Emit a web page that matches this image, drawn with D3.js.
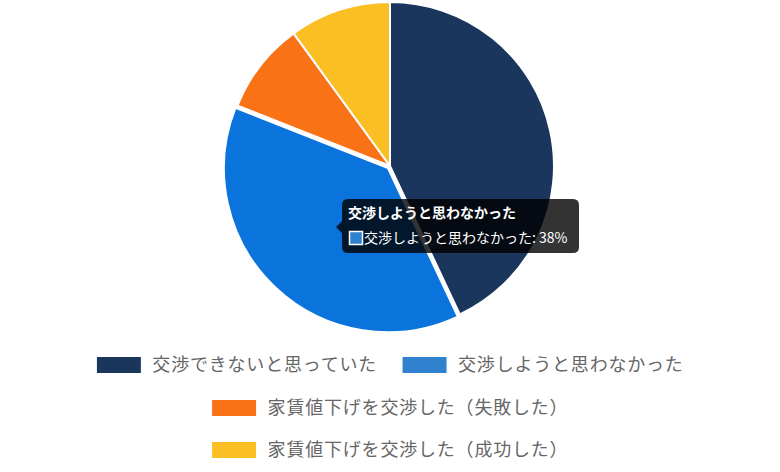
<!DOCTYPE html>
<html>
<head>
<meta charset="utf-8">
<script src="https://cdn.jsdelivr.net/npm/d3@7"></script>
<style>
  html, body { margin: 0; padding: 0; background: #fff; }
  svg { display: block; font-family: "Noto Sans CJK JP", "Noto Sans", sans-serif; }
</style>
</head>
<body>
<svg id="chart"></svg>
<script>
// --- データ ---
const categories = ["交渉できないと思っていた", "交渉しようと思わなかった", "家賃値下げを交渉した（失敗した）", "家賃値下げを交渉した（成功した）"];
const values = [43, 38, 9, 10];
const colors = ["#1a365d", "#3182ce", "#f97316", "#fbbf24"];
const hoverColors = ["#1a365d", "#0a73dc", "#f97316", "#fbbf24"];
const activeIndex = 1; // ツールチップ表示中のスライス

// --- 基本設定 ---
const width = 780, height = 472;
const cx = 390, cy = 166, radius = 164;
const hoverOffset = 3;

const svg = d3.select("#chart")
    .attr("width", width)
    .attr("height", height);

// --- 円グラフ ---
const pie = d3.pie().sort(null).value(d => d)(values);
const arc = d3.arc().innerRadius(0).outerRadius(radius);

const g = svg.append("g").attr("transform", `translate(${cx},${cy})`);

g.selectAll("path.slice")
    .data(pie)
    .enter()
    .append("path")
    .attr("class", "slice")
    .attr("d", arc)
    .attr("fill", (d, i) => i === activeIndex ? hoverColors[i] : colors[i])
    .attr("stroke", "#fff")
    .attr("stroke-width", 2)
    .attr("stroke-linejoin", "round")
    .attr("transform", (d, i) => {
        if (i !== activeIndex) return null;
        const mid = (d.startAngle + d.endAngle) / 2;
        return `translate(${Math.sin(mid) * hoverOffset},${-Math.cos(mid) * hoverOffset})`;
    });

// --- 凡例 ---
const fontSize = 18, letterSp = 0.8, boxW = 45, boxH = 17, textGap = 11, itemGap = 25;
const maxRowW = 620;
const rowY = [365, 408, 450];
const legend = svg.append("g");

// テキスト幅を測ってから行に詰める
const measure = svg.append("text")
    .style("font-size", fontSize + "px")
    .style("letter-spacing", letterSp + "px");
const items = categories.map((c, i) => {
    measure.text(c);
    const tw = measure.node().getComputedTextLength();
    return { label: c, color: colors[i], w: boxW + textGap + tw };
});
measure.remove();

const rows = [];
let cur = [], curW = 0;
items.forEach(it => {
    const add = cur.length ? itemGap + it.w : it.w;
    if (cur.length && curW + add > maxRowW) {
        rows.push(cur); cur = [it]; curW = it.w;
    } else { cur.push(it); curW += add; }
});
if (cur.length) rows.push(cur);

rows.forEach((row, r) => {
    const total = d3.sum(row, d => d.w) + itemGap * (row.length - 1);
    let x = (width - total) / 2;
    row.forEach(it => {
        const item = legend.append("g").attr("transform", `translate(${x},${rowY[r]})`);
        item.append("rect")
            .attr("x", 0).attr("y", -boxH / 2)
            .attr("width", boxW).attr("height", boxH)
            .attr("fill", it.color)
            .attr("stroke", "#fff").attr("stroke-width", 1);
        item.append("text")
            .attr("x", boxW + textGap)
            .attr("dy", "0.35em")
            .style("font-size", fontSize + "px")
            .style("letter-spacing", letterSp + "px")
            .attr("fill", "#666")
            .text(it.label);
        x += it.w + itemGap;
    });
});

// --- ツールチップ ---
const tip = svg.append("g").attr("transform", "translate(342,199)");
const tipW = 237, tipH = 54, rr = 6;
tip.append("path")
    .attr("d", `M${rr},0 H${tipW - rr} Q${tipW},0 ${tipW},${rr} V${tipH - rr} Q${tipW},${tipH} ${tipW - rr},${tipH}
        H${rr} Q0,${tipH} 0,${tipH - rr} V34 L-6,28 L0,22 V${rr} Q0,0 ${rr},0 Z`)
    .attr("fill", "rgba(0,0,0,0.8)");
tip.append("text")
    .attr("x", 6).attr("y", 14)
    .attr("dy", "0.35em")
    .style("font-size", "14px")
    .style("font-weight", "bold")
    .attr("fill", "#fff")
    .text(categories[activeIndex]);
tip.append("rect")
    .attr("x", 7.5).attr("y", 32.5)
    .attr("width", 13).attr("height", 13)
    .attr("fill", colors[activeIndex])
    .attr("stroke", "#fff").attr("stroke-width", 1.5);
tip.append("text")
    .attr("x", 22).attr("y", 39)
    .attr("dy", "0.35em")
    .style("font-size", "14px")
    .attr("fill", "#fff")
    .text(`${categories[activeIndex]}: ${values[activeIndex]}%`);
</script>
</body>
</html>
